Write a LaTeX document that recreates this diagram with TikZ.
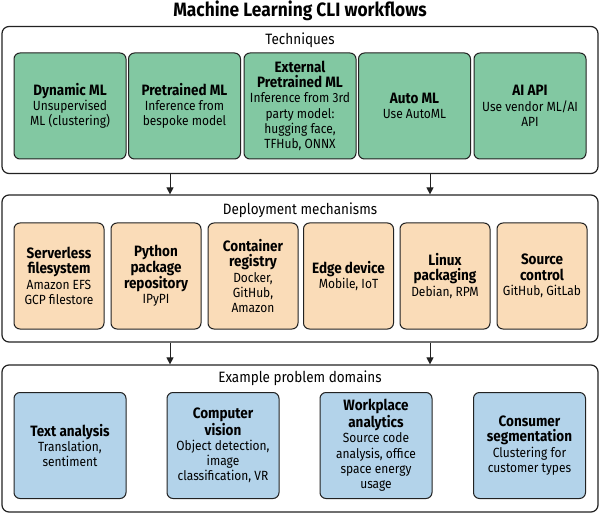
\documentclass[tikz,border=0pt]{standalone}
\usepackage{fontspec}
\setmainfont{Fira Sans}[FakeStretch=0.9]
\usetikzlibrary{arrows.meta}
\definecolor{grn}{HTML}{82C8A2}
\definecolor{org}{HTML}{FADCB8}
\definecolor{blu}{HTML}{B3D3EA}
\definecolor{ln}{HTML}{222222}
\newcommand\hdf{\fontsize{15}{16}\selectfont\bfseries}
\tikzset{
  outer/.style={draw=ln, line width=1.2pt, rounded corners=7pt, fill=white, minimum width=596pt, minimum height=147pt, inner sep=0pt},
  inner/.style={draw=ln, line width=1pt, rounded corners=6pt, minimum height=106pt, align=center, inner sep=1pt, font=\fontsize{13.3}{15.3}\selectfont},
  gbox/.style={inner, fill=grn, minimum width=112pt},
  obox/.style={inner, fill=org, minimum width=90pt},
  bbox/.style={inner, fill=blu, minimum width=112pt},
  seclabel/.style={font=\fontsize{15}{16}\selectfont, inner sep=0pt},
  arr/.style={draw=ln, line width=1pt, -{Triangle[length=7pt,width=7pt]}}
}
\begin{document}
\begin{tikzpicture}[x=1pt,y=-1pt]
\useasboundingbox (0,0) rectangle (600,513);
\node[font=\fontsize{19.3}{21}\selectfont\bfseries, inner sep=0pt] (title) at (300,11) {Machine Learning CLI workflows};

\node[outer] (tech) at (300,100) {};
\node[seclabel] (techl) at (300,40) {Techniques};
\node[gbox] (g1) at (70,106) {{\hdf Dynamic ML}\\Unsupervised\\ML (clustering)};
\node[gbox] (g2) at (184.5,106) {{\hdf Pretrained ML}\\Inference from\\bespoke model};
\node[gbox] (g3) at (300,106) {{\hdf External}\\{\hdf Pretrained ML}\\Inference from 3rd\\party model:\\hugging face,\\TFHub, ONNX};
\node[gbox] (g4) at (414.5,106) {{\hdf Auto ML}\\Use AutoML};
\node[gbox] (g5) at (530,106) {{\hdf AI API}\\Use vendor ML/AI\\API};

\node[outer] (dep) at (300,268.5) {};
\node[seclabel] (depl) at (300,210) {Deployment mechanisms};
\node[obox] (o1) at (59,276) {{\hdf Serverless}\\{\hdf filesystem}\\Amazon EFS\\GCP filestore};
\node[obox] (o2) at (156,276) {{\hdf Python}\\{\hdf package}\\{\hdf repository}\\IPyPI};
\node[obox] (o3) at (253,276) {{\hdf Container}\\{\hdf registry}\\Docker,\\GitHub,\\Amazon};
\node[obox] (o4) at (348.5,276) {{\hdf Edge device}\\Mobile, IoT};
\node[obox] (o5) at (445,276) {{\hdf Linux}\\{\hdf packaging}\\Debian, RPM};
\node[obox] (o6) at (542,276) {{\hdf Source}\\{\hdf control}\\GitHub, GitLab};

\node[outer] (dom) at (300,438.5) {};
\node[seclabel] (doml) at (300,378) {Example problem domains};
\node[bbox] (b1) at (70,445.5) {{\hdf Text analysis}\\Translation,\\sentiment};
\node[bbox] (b2) at (223,445.5) {{\hdf Computer}\\{\hdf vision}\\Object detection,\\image\\classification, VR};
\node[bbox] (b3) at (376,445.5) {{\hdf Workplace}\\{\hdf analytics}\\Source code\\analysis, office\\space energy\\usage};
\node[bbox] (b4) at (529.5,445.5) {{\hdf Consumer}\\{\hdf segmentation}\\Clustering for\\customer types};

\coordinate (ax1) at (170,0);
\coordinate (ax2) at (430,0);
\draw[arr] (tech.south -| ax1) -- (dep.north -| ax1);
\draw[arr] (tech.south -| ax2) -- (dep.north -| ax2);
\draw[arr] (dep.south -| ax1) -- (dom.north -| ax1);
\draw[arr] (dep.south -| ax2) -- (dom.north -| ax2);
\end{tikzpicture}
\end{document}
